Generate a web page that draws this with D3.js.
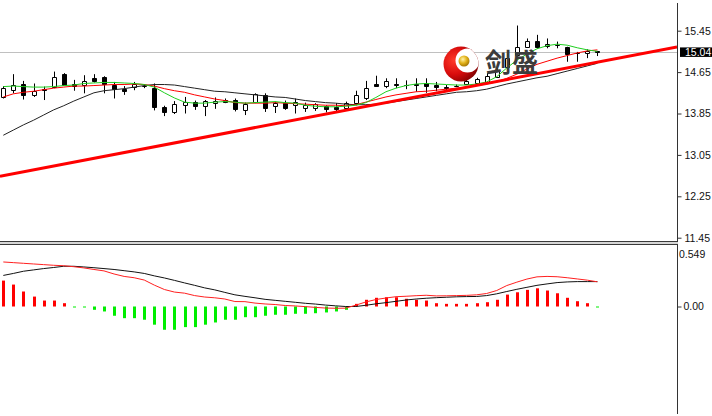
<!DOCTYPE html>
<html><head><meta charset="utf-8">
<script src="https://cdn.jsdelivr.net/npm/d3@7"></script>
<style>html,body{margin:0;padding:0;background:#fff;overflow:hidden}svg{display:block}</style>
</head><body><svg id="c" width="712" height="416"></svg>
<script>
// ---- price data (one value per bar) ----
const opens  = [14.17,14.30,14.42,14.21,14.32,14.36,14.61,14.42,14.40,14.53,14.55,14.40,14.32,14.36,14.39,14.34,13.97,13.87,14.02,14.07,14.00,14.05,14.11,14.11,13.92,14.07,14.21,13.99,14.05,14.01,13.95,13.95,13.99,13.97,13.95,14.06,14.14,14.42,14.38,14.42,14.41,14.42,14.44,14.40,14.37,14.39,14.42,14.43,14.46,14.56,14.75,14.98,15.14,15.26,15.15,15.17,15.13,15.01,15.01,15.05];
const highs  = [14.38,14.61,14.48,14.43,14.37,14.66,14.63,14.50,14.59,14.61,14.57,14.46,14.38,14.46,14.42,14.43,14.00,14.09,14.17,14.10,14.11,14.16,14.14,14.14,14.06,14.24,14.24,14.08,14.10,14.14,14.06,14.05,14.01,14.05,14.08,14.29,14.48,14.58,14.53,14.53,14.49,14.53,14.53,14.46,14.40,14.41,14.51,14.54,14.63,14.75,15.01,15.55,15.30,15.37,15.30,15.24,15.14,15.04,15.09,15.06];
const lows   = [14.14,14.24,14.12,14.17,14.11,14.34,14.38,14.29,14.24,14.45,14.24,14.14,14.21,14.30,14.34,13.91,13.80,13.84,13.85,13.92,13.80,13.94,14.05,13.89,13.82,14.05,13.88,13.86,13.92,13.85,13.88,13.90,13.87,13.87,13.92,14.01,14.11,14.38,14.34,14.34,14.32,14.27,14.25,14.28,14.30,14.36,14.40,14.43,14.43,14.54,14.69,14.95,15.12,15.10,15.11,15.11,14.85,14.85,14.92,14.96];
const closes = [14.34,14.40,14.21,14.29,14.31,14.56,14.40,14.38,14.48,14.48,14.42,14.32,14.29,14.42,14.38,13.97,13.88,14.03,14.08,13.99,14.09,14.09,14.08,13.93,14.03,14.23,13.95,14.06,13.95,14.08,14.01,14.03,13.93,13.93,14.05,14.21,14.35,14.38,14.48,14.41,14.40,14.40,14.38,14.36,14.35,14.38,14.48,14.51,14.57,14.70,14.92,15.14,15.26,15.14,15.19,15.18,15.00,15.02,15.06,15.04];

// ---- moving averages ----
const maGreen = [14.37,14.38,14.37,14.36,14.36,14.37,14.39,14.40,14.43,14.44,14.45,14.45,14.44,14.43,14.41,14.36,14.25,14.15,14.07,14.05,14.05,14.07,14.08,14.07,14.05,14.06,14.07,14.08,14.06,14.05,14.01,13.99,13.98,13.98,13.99,14.01,14.06,14.16,14.27,14.34,14.39,14.42,14.43,14.42,14.41,14.40,14.40,14.42,14.46,14.56,14.73,14.88,15.00,15.10,15.16,15.19,15.17,15.12,15.08,15.05];
const maRed   = [14.17,14.23,14.26,14.28,14.31,14.34,14.36,14.38,14.38,14.39,14.40,14.41,14.41,14.42,14.41,14.38,14.33,14.29,14.26,14.21,14.17,14.13,14.10,14.06,14.05,14.05,14.05,14.06,14.05,14.04,14.03,14.02,14.01,14.01,14.00,14.02,14.07,14.12,14.17,14.21,14.24,14.27,14.28,14.30,14.32,14.34,14.36,14.39,14.42,14.46,14.53,14.61,14.71,14.80,14.86,14.92,14.97,15.02,15.06,15.08];
const maBlack = [13.43,13.53,13.63,13.72,13.82,13.92,14.00,14.09,14.17,14.25,14.29,14.31,14.33,14.36,14.39,14.41,14.41,14.40,14.37,14.34,14.31,14.28,14.27,14.25,14.23,14.21,14.19,14.17,14.16,14.13,14.10,14.08,14.06,14.05,14.03,14.02,14.02,14.03,14.05,14.08,14.11,14.14,14.17,14.20,14.23,14.26,14.27,14.29,14.32,14.37,14.42,14.46,14.50,14.54,14.57,14.62,14.67,14.72,14.77,14.82];

// ---- trend line anchors (bar index, price) ----
const trendBars   = [0, 59];
const trendPrices = [12.65, 14.84];

// ---- MACD ----
const macdHist = [0.235,0.199,0.136,0.090,0.054,0.054,0.030,-0.007,-0.009,-0.030,-0.045,-0.084,-0.106,-0.106,-0.120,-0.165,-0.211,-0.211,-0.187,-0.187,-0.165,-0.145,-0.120,-0.120,-0.097,-0.097,-0.084,-0.075,-0.075,-0.066,-0.066,-0.061,-0.054,-0.045,-0.030,0.024,0.061,0.079,0.084,0.084,0.070,0.061,0.054,0.030,0.024,0.024,0.024,0.030,0.039,0.061,0.108,0.129,0.151,0.165,0.145,0.120,0.079,0.048,0.030,-0.005];
const macdDif  = [0.404,0.398,0.392,0.386,0.380,0.374,0.370,0.361,0.350,0.336,0.323,0.295,0.273,0.261,0.240,0.194,0.154,0.131,0.121,0.099,0.086,0.079,0.068,0.045,0.044,0.031,0.023,0.018,0.009,0.005,-0.001,-0.008,-0.014,-0.016,-0.015,0.012,0.041,0.063,0.077,0.089,0.093,0.098,0.102,0.096,0.097,0.099,0.101,0.106,0.118,0.145,0.190,0.221,0.249,0.269,0.273,0.270,0.261,0.250,0.239,0.224];
const macdDea  = [0.282,0.300,0.320,0.332,0.344,0.354,0.365,0.365,0.359,0.352,0.344,0.336,0.325,0.314,0.300,0.278,0.259,0.237,0.214,0.192,0.169,0.151,0.128,0.106,0.092,0.079,0.065,0.056,0.047,0.038,0.029,0.022,0.013,0.006,0.000,0.000,0.011,0.024,0.035,0.047,0.059,0.068,0.075,0.080,0.084,0.088,0.090,0.091,0.099,0.115,0.136,0.156,0.174,0.192,0.205,0.217,0.223,0.226,0.226,0.226];

// ---- axis labels ----
const priceTicks = [15.45, 14.65, 13.85, 13.05, 12.25, 11.45];
const lastPrice = 15.04;
const macdTopLabel = 0.549;
const macdZeroLabel = 0.00;
const logoText = "剑盛";

const svg = d3.select('#c');
const plotR = 677;
const mainTop = 3, mainBot = 241, macdTop = 245, macdBot = 414;
const x  = d3.scaleLinear().domain([0, 59]).range([3.3, 597.4]);
const y  = d3.scaleLinear().domain([11.45, 15.45]).range([237.7, 30.7]);
const ym = d3.scaleLinear().domain([0, macdTopLabel]).range([306.5, 246]);
const font = "'Liberation Sans', Arial, sans-serif";

const defs = svg.append('defs');
defs.append('clipPath').attr('id','clipMain').append('rect')
  .attr('x',0).attr('y',mainTop).attr('width',plotR).attr('height',mainBot-mainTop);
defs.append('clipPath').attr('id','clipMacd').append('rect')
  .attr('x',0).attr('y',macdTop).attr('width',plotR).attr('height',macdBot-macdTop);

const main = svg.append('g').attr('clip-path','url(#clipMain)');

// bid line
main.append('line').attr('x1',0).attr('x2',plotR)
  .attr('y1',Math.round(y(lastPrice))+0.5).attr('y2',Math.round(y(lastPrice))+0.5)
  .attr('stroke','#c0c0c0').attr('stroke-width',1);

// candles
const bars = d3.range(opens.length);
const cg = main.append('g');
bars.forEach(i => {
  const cx = Math.round(x(i)) + 0.5;
  cg.append('line').attr('x1',cx).attr('x2',cx)
    .attr('y1',y(highs[i])).attr('y2',y(lows[i]))
    .attr('stroke','#000').attr('stroke-width',1);
  const t = Math.round(Math.min(y(opens[i]), y(closes[i]))) + 0.5;
  const b = Math.round(Math.max(y(opens[i]), y(closes[i]))) + 0.5;
  const bull = closes[i] > opens[i];
  cg.append('path')
    .attr('d',`M${cx-2},${t}H${cx+2}V${b}H${cx-2}Z`)
    .attr('fill', bull ? '#fff' : '#000')
    .attr('stroke','#000').attr('stroke-width',1);
});

// moving averages
const maLine = d3.line().x((d,i)=>x(i)).y(d=>y(d));
main.append('path').attr('d',maLine(maBlack)).attr('fill','none').attr('stroke','#222').attr('stroke-width',1);
main.append('path').attr('d',maLine(maRed)).attr('fill','none').attr('stroke','#ff0000').attr('stroke-width',1);
main.append('path').attr('d',maLine(maGreen)).attr('fill','none').attr('stroke','#1fcf1f').attr('stroke-width',1);

// trend line (ray extended across plot)
const slope = (trendPrices[1]-trendPrices[0])/(trendBars[1]-trendBars[0]);
const b0 = x.invert(0), b1 = x.invert(plotR);
main.append('line')
  .attr('x1',0).attr('y1',y(trendPrices[0] + slope*(b0-trendBars[0])))
  .attr('x2',plotR).attr('y2',y(trendPrices[0] + slope*(b1-trendBars[0])))
  .attr('stroke','#ff0000').attr('stroke-width',3);

// logo
const rg = defs.append('radialGradient').attr('id','redG').attr('cx','30%').attr('cy','40%').attr('r','80%');
rg.append('stop').attr('offset','0%').attr('stop-color','#ff3a2a');
rg.append('stop').attr('offset','50%').attr('stop-color','#d80c0c');
rg.append('stop').attr('offset','100%').attr('stop-color','#6e0000');
const gg = defs.append('radialGradient').attr('id','goldG').attr('cx','40%').attr('cy','35%').attr('r','70%');
gg.append('stop').attr('offset','0%').attr('stop-color','#fff3a8');
gg.append('stop').attr('offset','50%').attr('stop-color','#e2b21a');
gg.append('stop').attr('offset','100%').attr('stop-color','#9c6f00');
const logo = svg.append('g');
const cX = 461, cY = 64, R = 17.5, iX = 467.5, iY = 60.5, iR = 12;
const clipOuter = defs.append('clipPath').attr('id','logoOuter');
clipOuter.append('circle').attr('cx',cX).attr('cy',cY).attr('r',R);
logo.append('path')
  .attr('d', `M${cX-R},${cY}a${R},${R} 0 1,0 ${2*R},0a${R},${R} 0 1,0 ${-2*R},0Z`)
  .attr('fill','url(#redG)');
logo.append('circle').attr('cx',iX).attr('cy',iY).attr('r',iR).attr('fill','#fff')
  .attr('clip-path','url(#logoOuter)');
const arc = d3.arc().innerRadius(9).outerRadius(11.5).startAngle(0.1).endAngle(1.9);
logo.append('path').attr('d',arc()).attr('transform',`translate(${iX},${iY})`).attr('fill','url(#goldG)')
  .attr('clip-path','url(#logoOuter)');
logo.append('circle').attr('cx',464).attr('cy',61).attr('r',5.5).attr('fill','url(#goldG)');
logo.append('text').attr('x',485).attr('y',72)
  .attr('font-family',"'Noto Sans CJK SC', sans-serif").attr('font-size',26).attr('font-weight',700)
  .attr('letter-spacing',1).attr('fill','#3c3c3c').text(logoText);

// MACD
const mg = svg.append('g').attr('clip-path','url(#clipMacd)');
bars.forEach(i => {
  const cx = Math.round(x(i));
  const v = macdHist[i];
  const y0 = ym(0), y1 = ym(v);
  mg.append('rect').attr('x',cx-1).attr('width',3)
    .attr('y',Math.min(y0,y1)).attr('height',Math.max(1,Math.abs(y1-y0)))
    .attr('fill', v >= 0 ? '#ff0000' : '#00ee00');
});
const mLine = d3.line().x((d,i)=>x(i)).y(d=>ym(d));
mg.append('path').attr('d',mLine(macdDea)).attr('fill','none').attr('stroke','#111').attr('stroke-width',1);
mg.append('path').attr('d',mLine(macdDif)).attr('fill','none').attr('stroke','#ff2020').attr('stroke-width',1);

// separator between panels
svg.append('rect').attr('x',0).attr('y',241).attr('width',plotR+1).attr('height',4).attr('fill','#d6d6d6');
svg.append('line').attr('x1',0).attr('x2',plotR+1).attr('y1',241.5).attr('y2',241.5).attr('stroke','#3a3a3a');
svg.append('line').attr('x1',0).attr('x2',plotR+1).attr('y1',244.5).attr('y2',244.5).attr('stroke','#3a3a3a');

// right axis lines
svg.append('line').attr('x1',plotR+0.5).attr('x2',plotR+0.5).attr('y1',mainTop).attr('y2',mainBot+1).attr('stroke','#333');
svg.append('line').attr('x1',plotR+0.5).attr('x2',plotR+0.5).attr('y1',macdTop).attr('y2',macdBot).attr('stroke','#333');

// price axis
const ax = svg.append('g').attr('transform',`translate(${plotR+0.5},0)`)
  .call(d3.axisRight(y).tickValues(priceTicks).tickSize(4).tickPadding(3).tickFormat(d3.format('.2f')));
ax.select('.domain').remove();
ax.selectAll('line').attr('stroke','#333');
ax.selectAll('text').attr('font-family',font).attr('font-size',10.5).attr('fill','#111');

// last price box
svg.append('rect').attr('x',680).attr('y',y(lastPrice)-4.5).attr('width',32).attr('height',9.5).attr('fill','#000');
svg.append('text').attr('x',685).attr('y',y(lastPrice)+4).attr('font-family',font).attr('font-size',10.5)
  .attr('fill','#fff').text(d3.format('.2f')(lastPrice));

// MACD axis
const max = svg.append('g').attr('transform',`translate(${plotR+0.5},0)`)
  .call(d3.axisRight(ym).tickValues([macdZeroLabel]).tickSize(4).tickPadding(2).tickFormat(d3.format('.2f')));
max.select('.domain').remove();
max.selectAll('line').attr('stroke','#333');
max.selectAll('text').attr('font-family',font).attr('font-size',10.5).attr('fill','#111');
svg.append('text').attr('x',679).attr('y',258).attr('font-family',font).attr('font-size',10.5)
  .attr('fill','#111').text(d3.format('.3f')(macdTopLabel));
</script>
</body></html>
